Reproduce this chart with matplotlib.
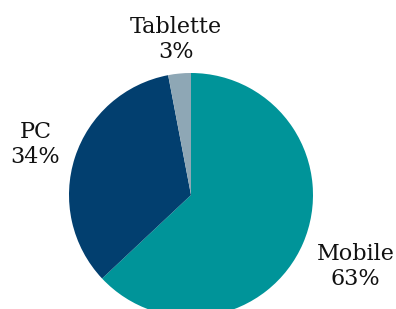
import matplotlib
matplotlib.use("Agg")
import matplotlib.pyplot as plt
import numpy as np

categories = ["Mobile", "PC", "Tablette"]
values = [63, 34, 3]
colors = ["#009499", "#023f6f", "#8ea7b5"]
label_dist = [1.47, 1.34, 1.28]

plt.rcParams['font.family'] = ['DejaVu Serif']

fig = plt.figure(figsize=(3.96, 3.09), dpi=100)
R = 122
cx, cy = 191, 309 - 195
ax = fig.add_axes([(cx - R) / 396, (cy - R) / 309, 2 * R / 396, 2 * R / 309])
wedges, _ = ax.pie(values, colors=colors, startangle=90, counterclock=False,
                   radius=1, wedgeprops=dict(linewidth=0))
ax.set_xlim(-1, 1)
ax.set_ylim(-1, 1)
ax.set_aspect('auto')
ax.axis('off')

for w, cat, v, d in zip(wedges, categories, values, label_dist):
    th = np.deg2rad((w.theta1 + w.theta2) / 2)
    ax.text(d * np.cos(th), d * np.sin(th), f"{cat}\n{v}%", ha='center', va='center',
            fontsize=16, color='#111111', linespacing=1.2, clip_on=False)

fig.savefig("out.png", dpi=100)
